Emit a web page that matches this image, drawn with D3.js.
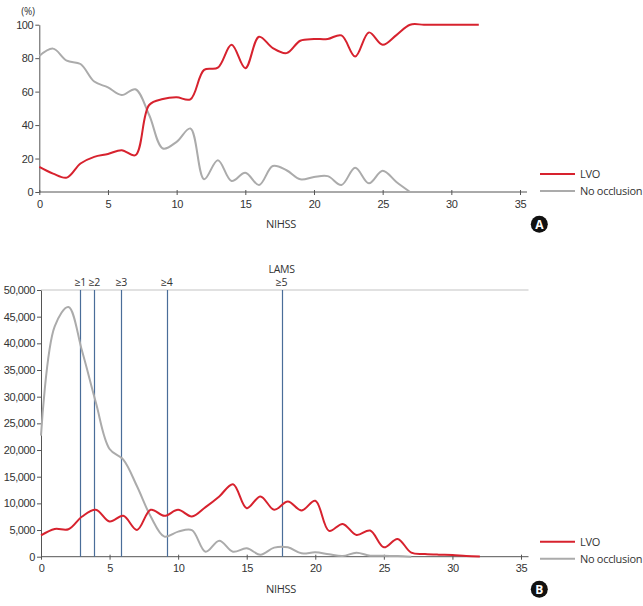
<!DOCTYPE html>
<html>
<head>
  <meta charset="utf-8">
  <title>LVO vs No occlusion by NIHSS</title>
  <script src="https://d3js.org/d3.v7.min.js"></script>
  <style>
    body { margin: 0; background: #fff; }
    svg { font-family: "Open Sans", "Noto Sans", sans-serif; }
    .axis text { fill: #333; font-size: 11px; letter-spacing: -0.4px; }
    .axis line, .axis path { stroke: #555; }
    .label { fill: #333; font-size: 11px; letter-spacing: -0.3px; }
    .lamsText { fill: #333; font-size: 10.5px; letter-spacing: -0.3px; }
  </style>
</head>
<body>
<script>
// NIHSS 점수 (x값)
var nihssA = d3.range(0, 33);
// 패널 A: 비율 (%)
var lvoPct = [15, 11, 8.6, 17, 21, 22.7, 25, 22, 52, 55.6, 56.6, 55.4, 73, 74.3, 88, 74,
  92.8, 86, 83, 90.4, 91.4, 91.5, 93.6, 81, 95.4, 88, 93.8, 100, 100, 100, 100, 100, 100];
var noOccPct = [81.3, 85.7, 78.5, 76.5, 66, 62.5, 58, 61.4, 46, 26, 30, 38, 7.6, 19, 6.6, 11.5,
  4.2, 15.5, 13, 7.6, 9, 9.5, 4.2, 14.5, 5.2, 12.7, 6, 0];

// 패널 B: 인원수
var lvoCount = [4000, 5200, 5150, 7540, 8800, 6600, 7660, 5025, 8800, 7660, 8800, 7540, 9300,
  11300, 13600, 9100, 11300, 8800, 10360, 8670, 10500, 4840, 6150, 4080, 4900, 1760, 3330,
  750, 500, 380, 310, 120, 60];
var noOccCount = [22700, 43200, 46800, 38500, 28900, 20200, 18200, 13200, 7540, 3770, 4700,
  5000, 940, 3000, 940, 1570, 380, 1700, 1760, 630, 820, 440, 120, 750, 190, 190, 120, 0];

// LAMS 기준선 (NIHSS 위치)
var lamsCuts = [2.87, 3.89, 5.86, 9.17, 17.54];
var lamsLabels = ['≥1', '≥2', '≥3', '≥4', '≥5'];

var xTicks = [0, 5, 10, 15, 20, 25, 30, 35];
var pctTicks = [0, 20, 40, 60, 80, 100];
var countTicks = d3.range(0, 50001, 5000);

var RED = '#d7222e';
var GREY = '#ababab';
var BLUE = '#4a6d99';

var svg = d3.select('body').append('svg')
  .attr('width', 643)
  .attr('height', 606);

function pairs(values) {
  return values.map(function(v, i) { return [i, v]; });
}

function drawLegend(yTop) {
  var items = [['LVO', RED], ['No occlusion', GREY]];
  items.forEach(function(it, i) {
    var y = yTop + i * 17;
    svg.append('line')
      .attr('x1', 540).attr('x2', 575)
      .attr('y1', y).attr('y2', y)
      .attr('stroke', it[1]).attr('stroke-width', 2);
    svg.append('text').attr('class', 'label')
      .attr('x', 580).attr('y', y).attr('dy', '0.35em')
      .text(it[0]);
  });
}

function drawBadge(cx, cy, letter) {
  svg.append('circle').attr('cx', cx).attr('cy', cy).attr('r', 8.5).attr('fill', '#111');
  svg.append('text')
    .attr('x', cx).attr('y', cy).attr('dy', '0.36em')
    .attr('text-anchor', 'middle')
    .attr('fill', '#fff')
    .style('font-size', '12px').style('font-weight', 'bold')
    .text(letter);
}

// ---------- 패널 A ----------
var xA = d3.scaleLinear().domain([0, 35]).range([39.3, 520]);
var yA = d3.scaleLinear().domain([0, 100]).range([192, 24.7]);

var gAx = svg.append('g').attr('class', 'axis')
  .attr('transform', 'translate(0,' + yA(0) + ')')
  .call(d3.axisBottom(xA).tickValues(xTicks).tickSize(3).tickPadding(5).tickSizeOuter(0));
gAx.select('.domain').attr('d', 'M' + xA(0) + ',0H527');
gAx.selectAll('.tick line').attr('y1', -2);

svg.append('g').attr('class', 'axis')
  .attr('transform', 'translate(' + xA(0) + ',0)')
  .call(d3.axisLeft(yA).tickValues(pctTicks).tickSize(4).tickPadding(2).tickSizeOuter(0));

svg.append('text').attr('class', 'label')
  .attr('x', 28).attr('y', 11).attr('dy', '0.35em')
  .attr('text-anchor', 'middle').style('font-size', '10px')
  .text('(%)');

var lineA = d3.line()
  .x(function(d) { return xA(d[0]); })
  .y(function(d) { return yA(d[1]); })
  .curve(d3.curveCatmullRom.alpha(0.5));

svg.append('path').datum(pairs(noOccPct))
  .attr('d', lineA).attr('fill', 'none').attr('stroke', GREY).attr('stroke-width', 2);
svg.append('path').datum(pairs(lvoPct))
  .attr('d', lineA).attr('fill', 'none').attr('stroke', RED).attr('stroke-width', 2);

svg.append('text').attr('class', 'label')
  .attr('x', 281).attr('y', 224).attr('dy', '0.35em').attr('text-anchor', 'middle')
  .text('NIHSS');
drawLegend(174);
drawBadge(539.3, 224.3, 'A');

// ---------- 패널 B ----------
var xB = d3.scaleLinear().domain([0, 35]).range([41, 521]);
var yB = d3.scaleLinear().domain([0, 50000]).range([556.7, 290]);

// 상단 기준선
svg.append('line')
  .attr('x1', xB(0)).attr('x2', 528.5)
  .attr('y1', yB(50000)).attr('y2', yB(50000))
  .attr('stroke', '#c4c4c4').attr('stroke-width', 1.2);

var gBx = svg.append('g').attr('class', 'axis')
  .attr('transform', 'translate(0,' + yB(0) + ')')
  .call(d3.axisBottom(xB).tickValues(xTicks).tickSize(3).tickPadding(5).tickSizeOuter(0));
gBx.select('.domain').attr('d', 'M' + xB(0) + ',0H528.5');
gBx.selectAll('.tick line').attr('y1', -2);

svg.append('g').attr('class', 'axis')
  .attr('transform', 'translate(' + xB(0) + ',0)')
  .call(d3.axisLeft(yB).tickValues(countTicks).tickFormat(d3.format(',')).tickSize(4).tickPadding(2).tickSizeOuter(0));

// LAMS 기준선
svg.selectAll('.lams').data(lamsCuts).enter().append('line')
  .attr('class', 'lams')
  .attr('x1', function(d) { return Math.round(xB(d)) + 0.5; })
  .attr('x2', function(d) { return Math.round(xB(d)) + 0.5; })
  .attr('y1', yB(50000)).attr('y2', yB(0))
  .attr('stroke', BLUE).attr('stroke-width', 1.2);
svg.selectAll('.lamsLabel').data(lamsCuts).enter().append('text')
  .attr('class', 'lamsText')
  .attr('x', function(d) { return xB(d); }).attr('y', 286)
  .attr('text-anchor', 'middle')
  .text(function(d, i) { return lamsLabels[i]; });
svg.append('text').attr('class', 'lamsText')
  .attr('x', xB(lamsCuts[4])).attr('y', 273).attr('text-anchor', 'middle')
  .text('LAMS');

var lineB = d3.line()
  .x(function(d) { return xB(d[0]); })
  .y(function(d) { return yB(d[1]); })
  .curve(d3.curveCatmullRom.alpha(0.5));

svg.append('path').datum(pairs(noOccCount))
  .attr('d', lineB).attr('fill', 'none').attr('stroke', GREY).attr('stroke-width', 2);
svg.append('path').datum(pairs(lvoCount))
  .attr('d', lineB).attr('fill', 'none').attr('stroke', RED).attr('stroke-width', 2);

svg.append('text').attr('class', 'label')
  .attr('x', 281).attr('y', 589.3).attr('dy', '0.35em').attr('text-anchor', 'middle')
  .text('NIHSS');
drawLegend(541.7);
drawBadge(539.3, 589.3, 'B');
</script>
</body>
</html>
